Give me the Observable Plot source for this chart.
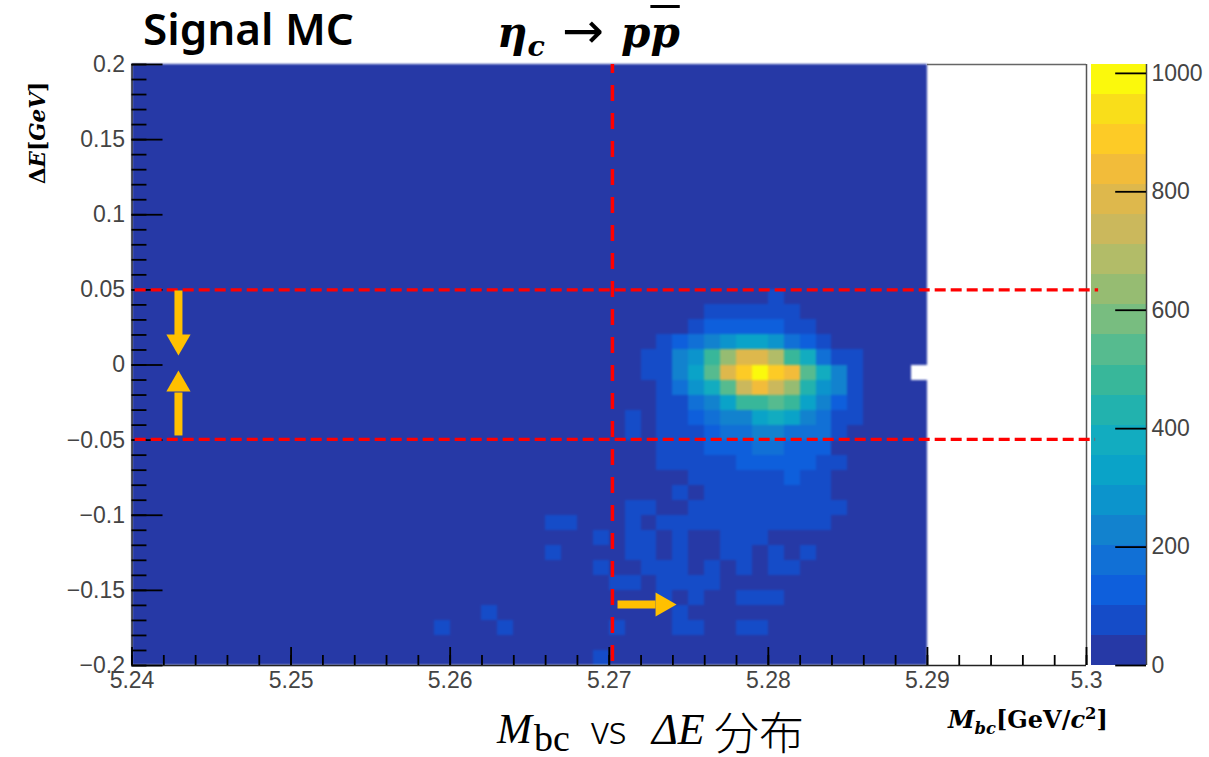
<!DOCTYPE html>
<html>
<head>
<meta charset="utf-8">
<script src="https://cdn.jsdelivr.net/npm/d3@7"></script>
<script src="https://cdn.jsdelivr.net/npm/@observablehq/plot@0.6"></script>
<style>
html,body{margin:0;padding:0;background:#fff;width:1209px;height:757px;overflow:hidden;position:relative}
.lay{position:absolute;white-space:nowrap;color:#000;z-index:3;line-height:1}
.ser{font-family:"Liberation Serif",serif}
.dv{font-family:"DejaVu Serif",serif;font-weight:700}
#main,#bar{position:absolute;top:0}
#main{left:0;z-index:2}
#bar{left:1091px;z-index:1}
sub,sup{font-size:.68em;line-height:0}
</style>
</head>
<body>
<div id="bar"></div>
<div id="main"></div>
<div class="lay" style="left:143px;top:-2px;font:600 44px 'Noto Sans',sans-serif">Signal MC</div>
<div class="lay dv" style="left:497px;top:12px;font-size:42px;font-style:italic">η<sub>c</sub></div>
<div class="lay" style="left:562px;top:2px;font:400 50px 'DejaVu Sans',sans-serif">→</div>
<div class="lay dv" style="left:621px;top:12px;font-size:42px;font-style:italic">p<span style="text-decoration:overline;text-decoration-thickness:2.5px">p</span></div>
<div class="lay ser" style="left:497px;top:708px;font-size:42px;font-style:italic">M</div>
<div class="lay ser" style="left:534px;top:719px;font-size:38px">bc</div>
<div class="lay" style="left:591px;top:703px;font:300 38px 'Noto Sans',sans-serif">vs</div>
<div class="lay ser" style="left:652px;top:708px;font-size:44px;font-style:italic">ΔE</div>
<div class="lay" style="left:714px;top:698px;font:300 45px 'Noto Sans CJK JP',sans-serif">分布</div>
<div class="lay dv" style="left:948px;top:708px;font-size:24px"><i>M<sub>bc</sub></i>[GeV/<i>c</i><sup>2</sup>]</div>
<div class="lay dv" style="left:38px;top:133px;font-size:21.5px;transform:translate(-50%,-50%) rotate(-90deg)">Δ<i>E</i>[<i>GeV</i>]</div>
<script>
// Palette: 20 contour levels of the colour bar (bottom to top)
const barMax = 1015;
const levelColors = ["#2639a6","#154cc8","#0e5fdc","#1170d6","#1282ce","#0c94cc","#0aa3c8","#12acc0","#22b2ae","#38b79a",
                     "#56bb8f","#78bd80","#96bc72","#b2bc68","#cbb85c","#deb84c","#f2bc3a","#fdcb26","#f9de1a","#fbf90c"];
const levelEdges = d3.range(1, 20).map(k => k * barMax / 20);

// Axis ticks
const xMajor = [5.24,5.25,5.26,5.27,5.28,5.29,5.3];
const yMajor = [0.2,0.15,0.1,0.05,0,-0.05,-0.1,-0.15,-0.2];
const barTicks = [0,200,400,600,800,1000];

// Histogram counts per row. Each row covers Mbc bins 19..45 of 50 (bin width 0.001 from 5.24), row number = ΔE bin from the top (0.01 wide).
const firstBin = 19;
const r15=[0,0,0,0,0,0,0,0,0,0,0,0,0,0,0,0,0,0,0,0,0,76,0,0,0,0,0];
const r16=[0,0,0,0,0,0,0,0,0,0,0,0,0,0,0,0,0,76,76,76,76,76,76,0,0,0,0];
const r17=[0,0,0,0,0,0,0,0,0,0,0,0,0,0,0,0,76,127,127,127,127,127,76,76,0,0,0];
const r18=[0,0,0,0,0,0,0,0,0,0,0,0,0,0,76,127,178,228,279,330,330,279,178,127,76,0,0];
const r19=[0,0,0,0,0,0,0,0,0,0,0,0,0,76,76,228,279,482,634,787,787,685,482,381,178,76,76];
const r20=[0,0,0,0,0,0,0,0,0,0,0,0,0,76,76,228,330,533,787,888,990,888,837,533,381,228,76];
const r21=[0,0,0,0,0,0,0,0,0,0,0,0,0,0,76,178,279,381,533,736,837,736,634,431,279,228,76];
const r22=[0,0,0,0,0,0,0,0,0,0,0,0,0,0,76,76,178,228,330,482,482,533,482,330,228,127,76];
const r23=[0,0,0,0,0,0,0,0,0,0,0,0,76,0,76,76,127,178,228,228,330,381,330,228,178,76,76];
const r24=[0,0,0,0,0,0,0,0,0,0,0,0,76,0,76,76,76,127,178,178,228,228,178,178,178,76,0];
const r25=[0,0,0,0,0,0,0,0,0,0,0,0,0,0,76,76,76,127,127,127,178,178,127,127,127,0,0];
const r26=[0,0,0,0,0,0,0,0,0,0,0,0,0,0,76,76,76,76,76,127,127,127,127,127,76,76,0];
const r27=[0,0,0,0,0,0,0,0,0,0,0,0,0,0,0,0,76,76,76,76,76,76,127,76,76,0,0];
const r28=[0,0,0,0,0,0,0,0,0,0,0,0,0,0,0,76,0,76,76,76,76,76,76,76,76,0,0];
const r29=[0,0,0,0,0,0,0,0,0,0,0,0,76,76,0,0,76,76,76,76,76,76,76,76,76,76,0];
const r30=[0,0,0,0,0,0,0,76,76,0,0,0,76,0,76,76,76,76,76,76,76,76,76,76,76,0,0];
const r31=[0,0,0,0,0,0,0,0,0,0,76,0,76,76,0,76,0,0,76,76,76,0,0,0,0,0,0];
const r32=[0,0,0,0,0,0,0,76,0,0,0,0,76,76,0,76,0,0,76,76,0,76,0,76,0,0,0];
const r33=[0,0,0,0,0,0,0,0,0,0,76,0,0,76,76,76,0,76,0,76,0,76,76,0,0,0,0];
const r34=[0,0,0,0,0,0,0,0,0,0,0,76,76,0,76,76,76,76,0,0,0,0,0,0,0,0,0];
const r35=[0,0,0,0,0,0,0,0,0,0,0,0,0,0,76,0,76,0,0,76,76,76,0,0,0,0,0];
const r36=[0,0,0,76,0,0,0,0,0,0,0,0,0,0,0,76,0,0,0,0,0,0,0,0,0,0,0];
const r37=[76,0,0,0,76,0,0,0,0,0,0,76,0,0,0,76,76,0,0,76,76,0,0,0,0,0,0];
const r39=[0,0,0,0,0,0,0,0,0,0,76,0,0,0,0,0,0,0,0,0,0,0,0,0,0,0,0];
const rowCounts = {15:r15,16:r16,17:r17,18:r18,19:r19,20:r20,21:r21,22:r22,23:r23,24:r24,25:r25,26:r26,27:r27,28:r28,29:r29,30:r30,31:r31,32:r32,33:r33,34:r34,35:r35,36:r36,37:r37,39:r39};
const emptyBin = {i:49, j:20};

const bins = [];
for (let j = 0; j < 40; j++) for (let i = 0; i < 50; i++) {
  if (i === emptyBin.i && j === emptyBin.j) continue;
  const row = rowCounts[j];
  bins.push({
    x1: 5.24 + i * 0.001, x2: 5.24 + (i + 1) * 0.001,
    y1: 0.2 - j * 0.01, y2: 0.2 - (j + 1) * 0.01,
    n: row ? (row[i - firstBin] || 0) : 0
  });
}
const xMinor = d3.range(0, 31).map(k => 5.24 + k * 0.002);
const yMinor = d3.range(0, 41).map(k => 0.2 - k * 0.01);
const fmt = d => String(+d.toFixed(2)).replace("-", "−");
const txt = "#444", fs = 23, tickW = 1.8;

const colorScale = {type:"threshold", domain:levelEdges, range:levelColors};

// Selection lines and arrows
const selX = 5.2702, selYHi = 0.05, selYLo = -0.0495;
const red = "#ff0000", amber = "#ffc000";

const main = Plot.plot({
  width:1209, height:757,
  marginLeft:131.5, marginRight:123, marginTop:64, marginBottom:92,
  style:{background:"transparent", fontFamily:"'Liberation Sans',sans-serif", color:txt},
  x:{domain:[5.24,5.3], label:null},
  y:{domain:[-0.2,0.2], label:null},
  color:colorScale,
  marks:[
    Plot.rect(bins,{x1:"x1",x2:"x2",y1:"y1",y2:"y2",fill:"n",shapeRendering:"crispEdges"}),
    // frame of the white part
    Plot.ruleY([0.2],{x1:5.29,x2:5.3,stroke:"#666",strokeWidth:1.5}),
    Plot.ruleX([5.3],{stroke:"#555",strokeWidth:1.5}),
    Plot.ruleX([5.24],{stroke:"#333",strokeWidth:1.5}),
    Plot.ruleY([-0.2],{stroke:"#222",strokeWidth:1.5}),
    // inward ticks
    Plot.ruleX(xMinor,{y1:-0.2,y2:-0.19335,stroke:"#000",strokeWidth:tickW}),
    Plot.ruleX(xMajor,{y1:-0.2,y2:-0.188,stroke:"#000",strokeWidth:tickW}),
    Plot.ruleY(yMinor,{x1:5.24,x2:5.24094,stroke:"#000",strokeWidth:tickW}),
    Plot.ruleY(yMajor,{x1:5.24,x2:5.24195,stroke:"#000",strokeWidth:tickW}),
    Plot.axisX(xMajor,{anchor:"bottom",tickSize:0,tickPadding:6,tickFormat:fmt,fontSize:fs,label:null}),
    Plot.axisY(yMajor,{anchor:"left",tickSize:0,tickPadding:7,tickFormat:fmt,fontSize:fs,label:null}),
    // dashed selection lines
    Plot.ruleY([selYHi],{x1:5.2402,x2:5.30076,stroke:red,strokeWidth:3.2,strokeDasharray:"11,5"}),
    Plot.ruleY([selYLo],{x1:5.2402,x2:5.30057,stroke:red,strokeWidth:3.2,strokeDasharray:"11,5"}),
    Plot.ruleX([selX],{stroke:red,strokeWidth:3.5,strokeDasharray:"16,12",strokeDashoffset:7}),
    // amber arrows
    Plot.link([{x:5.24292,a:0.0496,b:0.0196},{x:5.24292,a:-0.0469,b:-0.0183}],{x1:"x",x2:"x",y1:"a",y2:"b",stroke:amber,strokeWidth:8}),
    Plot.dot([{x:5.24292,y:0.01564,r:180},{x:5.24292,y:-0.01298,r:0}],{x:"x",y:"y",rotate:"r",symbol:"triangle",r:9,fill:amber,stroke:"none"}),
    Plot.link([{a:5.27052,b:5.27291,y:-0.1594}],{x1:"a",x2:"b",y1:"y",y2:"y",stroke:amber,strokeWidth:8}),
    Plot.dot([{x:5.27335,y:-0.1594,r:90}],{x:"x",y:"y",rotate:"r",symbol:"triangle",r:9,fill:amber,stroke:"none"})
  ]
});
document.getElementById("main").appendChild(main);

const barBands = levelColors.map((c,k) => ({lo:k*barMax/20, hi:(k+1)*barMax/20, v:(k+0.5)*barMax/20}));
const bar = Plot.plot({
  width:118, height:757,
  marginLeft:0, marginRight:63, marginTop:64, marginBottom:92,
  style:{background:"transparent", fontFamily:"'Liberation Sans',sans-serif", color:txt},
  x:{domain:[0,1], axis:null},
  y:{domain:[0,barMax], label:null},
  color:colorScale,
  marks:[
    Plot.rect(barBands,{x1:0,x2:1,y1:"lo",y2:"hi",fill:"v",shapeRendering:"crispEdges"}),
    Plot.ruleX([1],{stroke:"#444",strokeWidth:1.5}),
    Plot.ruleY(barTicks,{x1:0.44,x2:1,stroke:"#000",strokeWidth:tickW}),
    Plot.axisY(barTicks,{anchor:"right",tickSize:0,tickPadding:5,fontSize:fs,label:null,tickFormat:d=>String(d)})
  ]
});
document.getElementById("bar").appendChild(bar);

// The reference is a slightly soft upscaled image: soften the histogram cells the same way.
main.querySelectorAll("rect").forEach(r => { if (r.parentNode.childElementCount > 100) r.parentNode.style.filter = "blur(0.8px)"; });
</script>
</body>
</html>
